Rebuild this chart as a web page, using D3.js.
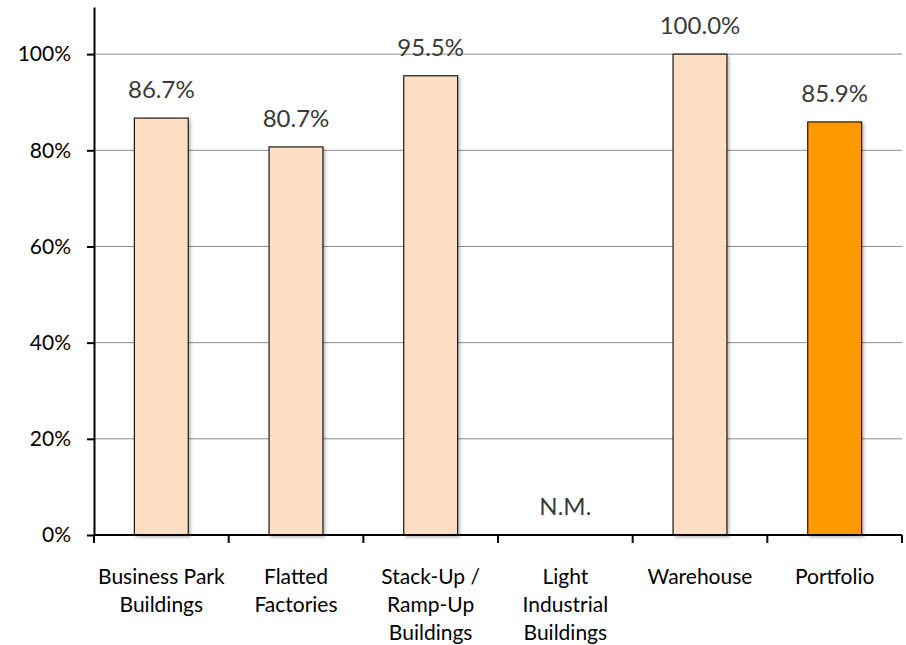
<!DOCTYPE html>
<html>
<head>
<meta charset="utf-8">
<script src="https://cdn.jsdelivr.net/npm/d3@7"></script>
<style>
  body { margin: 0; background: #fff; }
  svg { display: block; font-family: Lato, "Open Sans", sans-serif; }
</style>
</head>
<body>
<div id="cont"></div>
<script>
// chart data
var categories = ["Business Park|Buildings", "Flatted|Factories", "Stack-Up /|Ramp-Up|Buildings",
  "Light|Industrial|Buildings", "Warehouse", "Portfolio"];
var values = [86.7, 80.7, 95.5, null, 100.0, 85.9];
var valueLabels = ["86.7%", "80.7%", "95.5%", "N.M.", "100.0%", "85.9%"];
var yTicks = [0, 20, 40, 60, 80, 100];

var W = 906, H = 645;
var margin = { left: 94, right: 4, top: 7, bottom: 110 };
var width = W - margin.left - margin.right,
  height = H - margin.top - margin.bottom;

var svg = d3.select("#cont").append("svg")
  .attr("width", W).attr("height", H);

var defs = svg.append("defs");
var f = defs.append("filter").attr("id", "shadow")
  .attr("x", "-20%").attr("y", "-20%").attr("width", "140%").attr("height", "140%");
f.append("feDropShadow").attr("dx", 2).attr("dy", 2).attr("stdDeviation", 1.5)
  .attr("flood-color", "#000").attr("flood-opacity", 0.25);

var g = svg.append("g")
  .attr("transform", "translate(" + margin.left + "," + margin.top + ")");

var xScale = d3.scaleBand().domain(categories).range([0, width]).padding(0);
var yScale = d3.scaleLinear().domain([0, 109.8]).range([height, 0]);

// gridlines
g.append("g")
  .selectAll("line")
  .data(yTicks.filter(function(d) { return d > 0; }))
  .enter().append("line")
  .attr("x1", 0).attr("x2", width)
  .attr("y1", function(d) { return yScale(d); })
  .attr("y2", function(d) { return yScale(d); })
  .attr("stroke", "#8c8c8c").attr("stroke-width", 1);

// bars
var barW = xScale.bandwidth() * 0.4;
g.selectAll(".bar")
  .data(values.map(function(v, i) { return { v: v, c: categories[i], i: i }; })
    .filter(function(d) { return d.v != null; }))
  .enter().append("rect")
  .attr("class", "bar")
  .attr("x", function(d) { return xScale(d.c) + (xScale.bandwidth() - barW) / 2; })
  .attr("y", function(d) { return yScale(d.v); })
  .attr("width", barW)
  .attr("height", function(d) { return height - yScale(d.v); })
  .attr("fill", function(d) { return d.i == 5 ? "#ff9900" : "#fddec3"; })
  .attr("stroke", "#1a1a1a").attr("stroke-width", 1.2)
  .attr("filter", "url(#shadow)");

// value labels
g.selectAll(".vlabel")
  .data(categories)
  .enter().append("text")
  .attr("class", "vlabel")
  .attr("x", function(d) { return xScale(d) + xScale.bandwidth() / 2; })
  .attr("y", function(d, i) { return yScale(values[i] == null ? 0 : values[i]) - 20; })
  .attr("text-anchor", "middle")
  .attr("font-size", "24px")
  .attr("fill", "#3a3a3a")
  .text(function(d, i) { return valueLabels[i]; });

// y axis
var yAxis = g.append("g")
  .call(d3.axisLeft(yScale)
    .tickValues(yTicks)
    .tickSize(7)
    .tickSizeOuter(0)
    .tickPadding(16)
    .tickFormat(function(d) { return d + "%"; }));
yAxis.select(".domain").attr("stroke", "#000").attr("stroke-width", 2);
yAxis.selectAll(".tick line").attr("stroke", "#000").attr("stroke-width", 2);
yAxis.selectAll("text").attr("font-size", "21px").attr("fill", "#000")
  .attr("font-family", "Lato, sans-serif");

// x axis
var xAxis = g.append("g").attr("transform", "translate(0," + height + ")");
xAxis.append("line").attr("x1", 0).attr("x2", width)
  .attr("stroke", "#000").attr("stroke-width", 2);
var bounds = categories.map(function(c) { return xScale(c); }).concat([width]);
xAxis.selectAll(".xt")
  .data(bounds)
  .enter().append("line")
  .attr("x1", function(d) { return d; }).attr("x2", function(d) { return d; })
  .attr("y1", 0).attr("y2", 8)
  .attr("stroke", "#000").attr("stroke-width", 2);

xAxis.selectAll(".xlabel")
  .data(categories)
  .enter().append("text")
  .attr("class", "xlabel")
  .attr("text-anchor", "middle")
  .attr("font-size", "21px")
  .attr("fill", "#000")
  .attr("transform", function(d) { return "translate(" + (xScale(d) + xScale.bandwidth() / 2) + ",49)"; })
  .each(function(d) {
    var t = d3.select(this);
    d.split("|").forEach(function(line, k) {
      t.append("tspan").attr("x", 0).attr("dy", k == 0 ? 0 : 28).text(line);
    });
  });
</script>
</body>
</html>
